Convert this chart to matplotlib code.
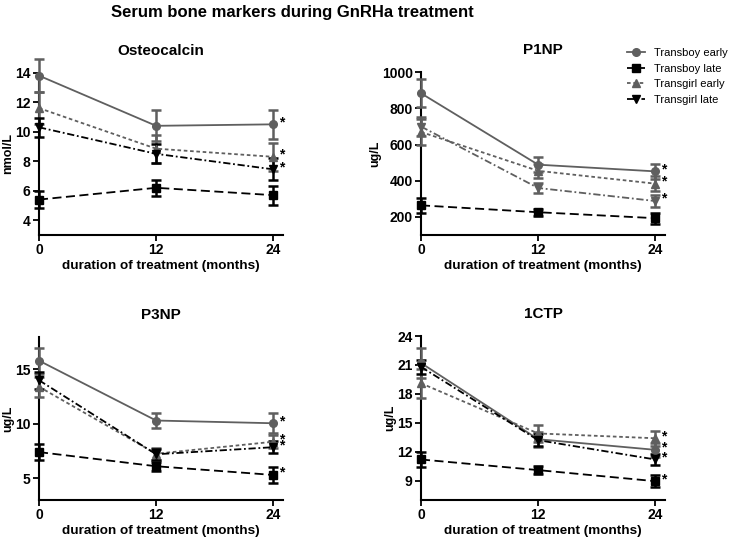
import matplotlib
matplotlib.use("Agg")
import matplotlib.pyplot as plt

plt.rcParams['font.family'] = ['Liberation Sans', 'DejaVu Sans']

months = [0, 12, 24]
series_names = ["Transboy early", "Transboy late", "Transgirl early", "Transgirl late"]

# series order: boy early, boy late, girl early, girl late
osteo_mean = [[13.8, 10.4, 10.5], [5.4, 6.2, 5.7], [11.6, 8.85, 8.3], [10.3, 8.5, 7.45]]
osteo_err = [[1.1, 1.05, 1.0], [0.55, 0.55, 0.65], [1.1, 0.95, 0.95], [0.65, 0.65, 0.75]]
osteo_stars = [True, False, True, True]

p1np_mean = [[884, 489, 452], [264, 226, 193], [670, 455, 384], [700, 360, 288]]
p1np_err = [[77, 42, 42], [42, 20, 30], [70, 40, 40], [52, 30, 35]]
p1np_stars = [True, False, True, True]

p3np_mean = [[15.8, 10.3, 10.05], [7.4, 6.1, 5.3], [13.4, 7.25, 8.35], [14.0, 7.2, 7.85]]
p3np_err = [[1.2, 0.65, 0.9], [0.7, 0.4, 0.75], [0.9, 0.55, 0.6], [0.8, 0.5, 0.55]]
p3np_stars = [True, True, True, True]

ctp_mean = [[21.2, 13.3, 12.2], [11.2, 10.1, 8.95], [19.1, 13.9, 13.4], [20.8, 13.2, 11.2]]
ctp_err = [[1.6, 0.8, 0.7], [0.8, 0.45, 0.6], [1.5, 0.85, 0.8], [0.7, 0.6, 0.6]]
ctp_stars = [True, True, True, True]

GRAY = "#5f5f5f"
styles = [
    dict(color=GRAY, ls="-", marker="o"),
    dict(color="black", ls=(0, (5, 2.5)), marker="s"),
    dict(color=GRAY, ls=(0, (2, 1.5)), marker="^"),
    dict(color="black", ls=(0, (4, 1.5, 1, 1.5)), marker="v"),
]


def panel(ax, title, ylabel, means, errs, stars, ylim, yticks, girl_late_color=None):
    lines = []
    for i in range(4):
        st = dict(styles[i])
        if i == 3 and girl_late_color:
            st["color"] = girl_late_color
        c = ax.errorbar(months, means[i], yerr=errs[i], color=st["color"], ls=st["ls"],
                        marker=st["marker"], ms=5.5, lw=1.3, elinewidth=1.8, capsize=3.5,
                        capthick=1.8, clip_on=False, zorder=3)
        for art in c.get_children():
            art.set_clip_on(False)
        lines.append(c[0])
        if stars[i]:
            ax.annotate("*", (months[-1], means[i][-1]), xytext=(4, 1.5),
                        textcoords="offset points", fontsize=10, fontweight="bold",
                        va="center", ha="left", annotation_clip=False)
    ax.set_xlim(0, 25)
    ax.set_ylim(*ylim)
    ax.set_yticks(yticks)
    ax.set_xticks(months)
    ax.spines[["top", "right"]].set_visible(False)
    for s in ["left", "bottom"]:
        ax.spines[s].set_linewidth(1.5)
    ax.tick_params(width=1.3, length=4, labelsize=10, pad=2)
    for lab in ax.get_xticklabels() + ax.get_yticklabels():
        lab.set_fontweight("bold")
    ax.set_title(title, fontsize=11, fontweight="bold", pad=13)
    ax.set_ylabel(ylabel, fontsize=9, fontweight="bold", labelpad=0.5)
    ax.set_xlabel("duration of treatment (months)", fontsize=9.7, fontweight="bold", labelpad=2)
    return lines


fig = plt.figure(figsize=(7.29, 5.4), dpi=100)
W, H = 729, 540
def rect(l, r, t, b):
    return [l / W, 1 - b / H, (r - l) / W, (b - t) / H]

ax1 = fig.add_axes(rect(39, 283, 72.7, 235))
ax2 = fig.add_axes(rect(421, 665, 72.3, 235))
ax3 = fig.add_axes(rect(39, 283, 336.7, 500))
ax4 = fig.add_axes(rect(421, 665, 336, 500))

handles = panel(ax1, "Osteocalcin", "nmol/L", osteo_mean, osteo_err, osteo_stars, (3, 14), [4, 6, 8, 10, 12, 14])
panel(ax2, "P1NP", "ug/L", p1np_mean, p1np_err, p1np_stars, (100, 1000), [200, 400, 600, 800, 1000], girl_late_color=GRAY)
panel(ax3, "P3NP", "ug/L", p3np_mean, p3np_err, p3np_stars, (3, 18), [5, 10, 15])
panel(ax4, "1CTP", "ug/L", ctp_mean, ctp_err, ctp_stars, (7, 24), [9, 12, 15, 18, 21, 24])

fig.legend(handles, series_names, loc="upper left", bbox_to_anchor=(627 / W, 1 - 48 / H),
           frameon=False, fontsize=8, handlelength=1.6, handletextpad=0.8,
           labelspacing=0.5, borderaxespad=0, borderpad=0)

fig.text(292 / W, 1 - 12.5 / H, "Serum bone markers during GnRHa treatment",
         ha="center", va="center", fontsize=12, fontweight="bold")

fig.savefig("out.png", dpi=100)
